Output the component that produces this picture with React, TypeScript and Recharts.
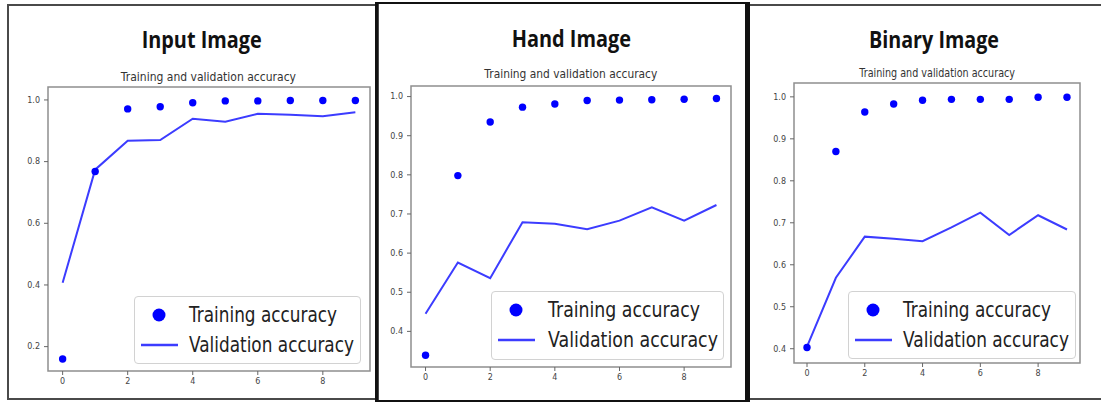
import React from 'react';
import { ComposedChart, Line, XAxis, YAxis, ReferenceArea, Legend } from 'recharts';

// ---------- data ----------
const epochs = [0, 1, 2, 3, 4, 5, 6, 7, 8, 9];
const xTicks = [0, 2, 4, 6, 8];
const legendLabels = ['Training accuracy', 'Validation accuracy'];
const subtitle = 'Training and validation accuracy';

const panelTitles = ['Input Image', 'Hand Image', 'Binary Image'];

const inputTrain = [0.16, 0.768, 0.971, 0.978, 0.991, 0.997, 0.997, 0.998, 0.998, 0.998];
const inputVal = [0.407, 0.774, 0.868, 0.87, 0.939, 0.929, 0.955, 0.952, 0.947, 0.96];

const handTrain = [0.339, 0.798, 0.935, 0.973, 0.981, 0.99, 0.991, 0.992, 0.993, 0.995];
const handVal = [0.445, 0.576, 0.536, 0.679, 0.675, 0.661, 0.683, 0.717, 0.683, 0.723];

const binTrain = [0.403, 0.87, 0.964, 0.983, 0.992, 0.994, 0.994, 0.994, 0.999, 0.999];
const binVal = [0.405, 0.569, 0.667, 0.662, 0.656, 0.689, 0.724, 0.671, 0.718, 0.684];

const yTicksWide = [0.2, 0.4, 0.6, 0.8, 1.0];
const yTicksNarrow = [0.4, 0.5, 0.6, 0.7, 0.8, 0.9, 1.0];

// ---------- layout ----------
const DOT = '#0000ff';
const LINE = '#3c3cff';
const Y_AXIS_W = 45;
const X_AXIS_H = 25;
const PAD = 5;
const X_DOMAIN: [number, number] = [-0.45, 9.45];

type Cfg = {
  title: string;
  train: number[];
  val: number[];
  plot: { x: number; y: number; w: number; h: number };
  yDomain: [number, number];
  yTicks: number[];
  legend: { x: number; y: number; w: number; h: number; textX: number; widths: number[] };
  titlePos: { x1: number; x2: number; base: number };
  subPos: { x1: number; x2: number; base: number };
};

const panels: Cfg[] = [
  {
    title: panelTitles[0],
    train: inputTrain,
    val: inputVal,
    plot: { x: 48, y: 87, w: 322, h: 284 },
    yDomain: [0.121, 1.042],
    yTicks: yTicksWide,
    legend: { x: 134, y: 296, w: 227, h: 68, textX: 55, widths: [148, 165] },
    titlePos: { x1: 141.7, x2: 261.7, base: 48.5 },
    subPos: { x1: 120.7, x2: 296, base: 81 },
  },
  {
    title: panelTitles[1],
    train: handTrain,
    val: handVal,
    plot: { x: 411, y: 86, w: 320, h: 281 },
    yDomain: [0.309, 1.027],
    yTicks: yTicksNarrow,
    legend: { x: 491, y: 291, w: 233, h: 69, textX: 57, widths: [152, 170] },
    titlePos: { x1: 511.7, x2: 631, base: 46.7 },
    subPos: { x1: 484.3, x2: 657.3, base: 78.3 },
  },
  {
    title: panelTitles[2],
    train: binTrain,
    val: binVal,
    plot: { x: 794, y: 83, w: 286, h: 280 },
    yDomain: [0.366, 1.033],
    yTicks: yTicksNarrow,
    legend: { x: 848, y: 291, w: 228, h: 68, textX: 55, widths: [148, 166] },
    titlePos: { x1: 869, x2: 999, base: 48.3 },
    subPos: { x1: 859.3, x2: 1015, base: 77.3 },
  },
];

// Text squeezed horizontally to a target width (scale + textLength)
function FitText(props: {
  x: number;
  y: number;
  w: number;
  sx: number;
  size: number;
  family: string;
  weight?: string;
  fill: string;
  children: string;
}) {
  const { x, y, w, sx, size, family, weight, fill, children } = props;
  return (
    <text
      x={x / sx}
      y={y}
      transform={`scale(${sx},1)`}
      fontFamily={family}
      fontWeight={weight || 'normal'}
      fontSize={size}
      fill={fill}
      textLength={w / sx}
      lengthAdjust="spacingAndGlyphs"
    >
      {children}
    </text>
  );
}

function makeLegend(cfg: Cfg) {
  const L = cfg.legend;
  return function LegendBox() {
    return (
      <div
        style={{
          width: L.w,
          height: L.h,
          boxSizing: 'border-box',
          border: '1px solid #d2d2d2',
          borderRadius: 4,
          background: 'rgba(255,255,255,0.85)',
          position: 'relative',
        }}
      >
        <svg width={L.w} height={L.h} style={{ position: 'absolute', left: -1, top: -1 }}>
          <circle cx={25} cy={19} r={6.5} fill={DOT} />
          <line x1={7} x2={44} y1={49} y2={49} stroke={LINE} strokeWidth={2.5} />
          <FitText x={L.textX} y={26} w={L.widths[0]} sx={0.8} size={21} family="DejaVu Sans" fill="#222">
            {legendLabels[0]}
          </FitText>
          <FitText x={L.textX} y={56} w={L.widths[1]} sx={0.8} size={21} family="DejaVu Sans" fill="#222">
            {legendLabels[1]}
          </FitText>
        </svg>
      </div>
    );
  };
}

function Panel({ cfg }: { cfg: Cfg }) {
  const data = epochs.map((e, i) => ({ epoch: e, train: cfg.train[i], val: cfg.val[i] }));
  const left = cfg.plot.x - Y_AXIS_W;
  const top = cfg.plot.y - PAD;
  const width = cfg.plot.w + Y_AXIS_W + PAD;
  const height = cfg.plot.h + PAD + X_AXIS_H;
  const LegendContent = makeLegend(cfg);
  return (
    <div style={{ position: 'absolute', left, top, width, height }}>
      <ComposedChart
        width={width}
        height={height}
        data={data}
        margin={{ top: PAD, right: PAD, left: 0, bottom: 0 }}
      >
        <XAxis
          dataKey="epoch"
          type="number"
          domain={X_DOMAIN}
          allowDataOverflow
          ticks={xTicks}
          height={X_AXIS_H}
          axisLine={false}
          tickLine={{ stroke: '#666' }}
          tickSize={4}
          tickMargin={3}
          tick={{ fontSize: 8, fill: '#444', fontFamily: 'DejaVu Sans' }}
          interval={0}
        />
        <YAxis
          type="number"
          domain={cfg.yDomain}
          allowDataOverflow
          ticks={cfg.yTicks}
          width={Y_AXIS_W}
          axisLine={false}
          tickLine={{ stroke: '#666' }}
          tickSize={4}
          tickMargin={4}
          tick={{ fontSize: 8, fill: '#444', fontFamily: 'DejaVu Sans' }}
          tickFormatter={(v: number) => v.toFixed(1)}
          interval={0}
        />
        <ReferenceArea
          x1={X_DOMAIN[0]}
          x2={X_DOMAIN[1]}
          y1={cfg.yDomain[0]}
          y2={cfg.yDomain[1]}
          fill="none"
          stroke="#8f8f8f"
          strokeWidth={1.5}
          ifOverflow="visible"
        />
        <Line
          dataKey="val"
          type="linear"
          stroke={LINE}
          strokeWidth={2}
          dot={false}
          activeDot={false}
          isAnimationActive={false}
        />
        <Line
          dataKey="train"
          type="linear"
          stroke="none"
          strokeWidth={0}
          dot={{ r: 3.7, fill: DOT, stroke: 'none' }}
          activeDot={false}
          isAnimationActive={false}
        />
        <Legend
          layout="horizontal"
          align="center"
          verticalAlign="middle"
          content={<LegendContent />}
          wrapperStyle={{
            left: cfg.legend.x - left,
            top: cfg.legend.y - top,
            width: cfg.legend.w,
            height: cfg.legend.h,
          }}
        />
      </ComposedChart>
    </div>
  );
}

export default function App() {
  return (
    <div
      style={{
        position: 'absolute',
        left: 0,
        top: 0,
        width: 1101,
        height: 402,
        background: '#fff',
        overflow: 'hidden',
      }}
    >
      {/* panel frames */}
      <div
        style={{
          position: 'absolute',
          left: 7,
          top: 4,
          width: 372,
          height: 396,
          boxSizing: 'border-box',
          border: '2px solid #4a4a4a',
        }}
      />
      <div
        style={{
          position: 'absolute',
          left: 746,
          top: 4,
          width: 400,
          height: 396,
          boxSizing: 'border-box',
          border: '2px solid #4a4a4a',
        }}
      />
      <div
        style={{
          position: 'absolute',
          left: 375,
          top: 2,
          width: 375,
          height: 400,
          boxSizing: 'border-box',
          borderTop: '2px solid #111',
          borderBottom: '2px solid #111',
          borderLeft: '3px solid #111',
          borderRight: '5px solid #111',
        }}
      />

      {/* titles */}
      <svg width={1101} height={402} style={{ position: 'absolute', left: 0, top: 0 }}>
        {panels.map((p, i) => (
          <g key={i}>
            <FitText
              x={p.titlePos.x1}
              y={p.titlePos.base}
              w={p.titlePos.x2 - p.titlePos.x1}
              sx={0.88}
              size={23}
              family="Open Sans"
              weight="bold"
              fill="#111"
            >
              {p.title}
            </FitText>
            <FitText
              x={p.subPos.x1}
              y={p.subPos.base}
              w={p.subPos.x2 - p.subPos.x1}
              sx={0.9}
              size={11.5}
              family="DejaVu Sans"
              fill="#333"
            >
              {subtitle}
            </FitText>
          </g>
        ))}
      </svg>

      {panels.map((p, i) => (
        <Panel key={i} cfg={p} />
      ))}
    </div>
  );
}
